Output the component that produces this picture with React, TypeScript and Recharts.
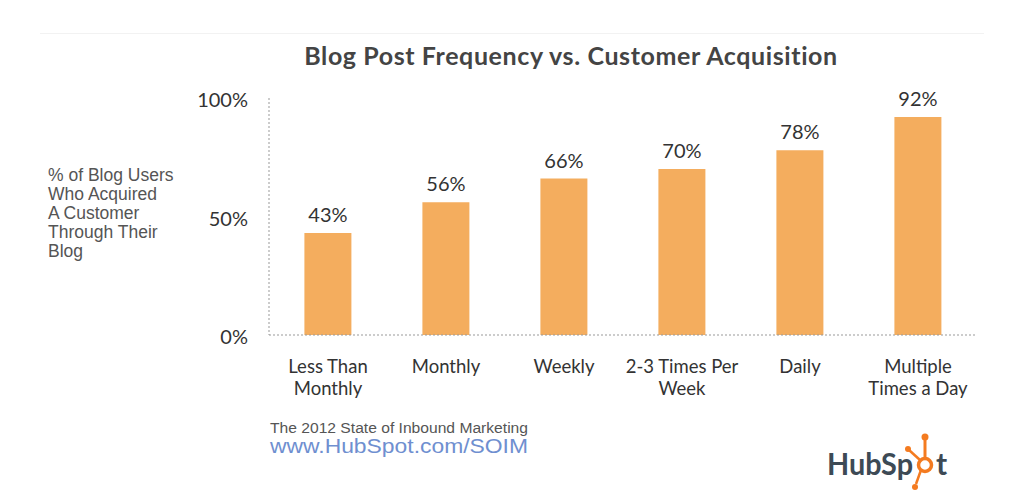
import { Bar, BarChart, LabelList, XAxis, YAxis } from "recharts";

const categories = [
  "Less Than\nMonthly",
  "Monthly",
  "Weekly",
  "2-3 Times Per\nWeek",
  "Daily",
  "Multiple\nTimes a Day",
];
const acquired = [43, 56, 66, 70, 78, 92];
const yTicks = [0, 50, 100];
const yLabelLines = [
  "% of Blog Users",
  "Who Acquired",
  "A Customer",
  "Through Their",
  "Blog",
];

const data = categories.map((name, i) => ({ name, value: acquired[i] }));

const FONT = "Lato, 'Open Sans', sans-serif";
const BAR = "#F4AD5E";
const ORANGE = "#f47b20";

function CategoryTick(props: any) {
  const { x, y, payload } = props;
  const lines = String(payload.value).split("\n");
  return (
    <text
      x={x}
      y={y}
      textAnchor="middle"
      fill="#333"
      fontSize={18.5}
      fontFamily={FONT}
    >
      {lines.map((line, i) => (
        <tspan key={i} x={x} dy={i === 0 ? 30 : 22}>
          {line}
        </tspan>
      ))}
    </text>
  );
}

export default function App() {
  return (
    <div
      style={{
        position: "absolute",
        left: 0,
        top: 0,
        width: 1024,
        height: 498,
        background: "#fff",
        fontFamily: FONT,
        overflow: "hidden",
      }}
    >
      <div
        style={{
          position: "absolute",
          left: 40,
          right: 40,
          top: 33,
          borderTop: "1px solid #f2f2f2",
        }}
      />
      <div
        style={{
          position: "absolute",
          left: 283,
          top: 40,
          width: 576,
          textAlign: "center",
          fontSize: 25,
          fontWeight: 700,
          letterSpacing: 0.6,
          color: "#444",
          whiteSpace: "nowrap",
        }}
      >
        Blog Post Frequency vs. Customer Acquisition
      </div>
      <div
        style={{
          position: "absolute",
          left: 48,
          top: 166,
          fontFamily: "'Liberation Sans', Arial, sans-serif",
          fontSize: 17.5,
          lineHeight: "19px",
          color: "#555",
        }}
      >
        {yLabelLines.map((l) => (
          <div key={l}>{l}</div>
        ))}
      </div>

      <BarChart
        width={1024}
        height={498}
        data={data}
        margin={{ top: 98, right: 47, left: 209, bottom: 103 }}
        barCategoryGap="30%"
      >
        <YAxis
          width={60}
          domain={[0, 100]}
          ticks={yTicks}
          tickFormatter={(v: number) => `${v}%`}
          tickLine={false}
          tickSize={0}
          tickMargin={21}
          axisLine={{ stroke: "#999", strokeDasharray: "2 2" }}
          tick={{ fill: "#333", fontSize: 20, fontFamily: FONT, dy: 2 }}
        />
        <XAxis
          dataKey="name"
          height={60}
          tickLine={false}
          interval={0}
          axisLine={{ stroke: "#999", strokeDasharray: "2 2" }}
          tick={<CategoryTick />}
        />
        <Bar dataKey="value" fill={BAR} isAnimationActive={false}>
          <LabelList
            dataKey="value"
            position="top"
            offset={11}
            formatter={(v: any) => `${v}%`}
            fill="#333"
            fontSize={20}
            fontFamily={FONT}
          />
        </Bar>
      </BarChart>

      <svg
        style={{ position: "absolute", left: 268, top: 420 }}
        width={280}
        height={40}
      >
        <text
          x={2}
          y={13}
          textLength={258}
          lengthAdjust="spacingAndGlyphs"
          fontFamily="'Liberation Sans', Arial, sans-serif"
          fontSize={14}
          fill="#555"
        >
          The 2012 State of Inbound Marketing
        </text>
        <text
          x={2}
          y={33}
          textLength={258}
          lengthAdjust="spacingAndGlyphs"
          fontFamily="'Liberation Sans', Arial, sans-serif"
          fontSize={20}
          fill="#6f8fd0"
        >
          www.HubSpot.com/SOIM
        </text>
      </svg>

      <svg
        style={{ position: "absolute", left: 820, top: 428 }}
        width={140}
        height={66}
      >
        <text
          x={7}
          y={47}
          textLength={86}
          lengthAdjust="spacingAndGlyphs"
          fontFamily={FONT}
          fontWeight={700}
          fontSize={30}
          fill="#3d4a55"
        >
          HubSp
        </text>
        <text
          x={116}
          y={47}
          fontFamily={FONT}
          fontWeight={700}
          fontSize={30}
          fill="#3d4a55"
        >
          t
        </text>
        <circle cx={105} cy={37} r={6.5} fill="none" stroke={ORANGE} strokeWidth={3.5} />
        <line x1={105} y1={30} x2={105} y2={12} stroke={ORANGE} strokeWidth={3} />
        <circle cx={105} cy={9} r={3.5} fill={ORANGE} />
        <line x1={100} y1={32} x2={89} y2={22} stroke={ORANGE} strokeWidth={2.5} />
        <circle cx={88} cy={21} r={3} fill={ORANGE} />
        <line x1={101} y1={42} x2={96} y2={56} stroke={ORANGE} strokeWidth={2.5} />
        <circle cx={95} cy={59} r={3} fill={ORANGE} />
      </svg>
    </div>
  );
}
